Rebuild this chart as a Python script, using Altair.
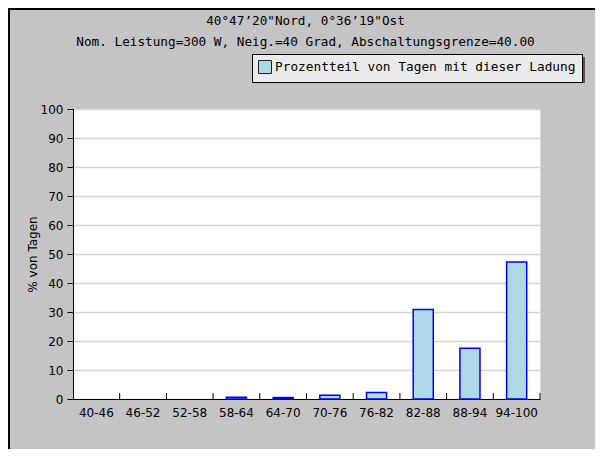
import altair as alt
import pandas as pd

categories = ["40-46", "46-52", "52-58", "58-64", "64-70", "70-76", "76-82", "82-88", "88-94", "94-100"]
values = [0, 0, 0, 0.6, 0.5, 1.3, 2.2, 30.9, 17.5, 47.2]
y_ticks = [0, 10, 20, 30, 40, 50, 60, 70, 80, 90, 100]
title_lines = ["40°47’20\"Nord, 0°36’19\"Ost",
               "Nom. Leistung=300 W, Neig.=40 Grad, Abschaltungsgrenze=40.00"]
legend_label = "Prozentteil von Tagen mit dieser Ladung"
y_title = "% von Tagen"

df = pd.DataFrame({"cat": categories, "val": values})

W, H = 467, 290
MONO = "DejaVu Sans Mono"
SANS = "DejaVu Sans"

x_enc = alt.X("cat:N", sort=categories, title=None,
              scale=alt.Scale(paddingInner=0, paddingOuter=0),
              axis=alt.Axis(labelAngle=0, ticks=False, labelPadding=8,
                            labelFont=SANS, labelFontSize=12, labelColor="black",
                            domainColor="black", domainWidth=1, grid=False))
y_enc = alt.Y("val:Q", title=y_title,
              scale=alt.Scale(domain=[0, 100], nice=False),
              axis=alt.Axis(values=y_ticks, tickSize=6, tickColor="black", domainColor="black",
                            labelFont=SANS, labelFontSize=12, labelColor="black", labelPadding=4,
                            gridColor="#d4d4d4", gridWidth=1.5,
                            titleFont=SANS, titleFontSize=12, titleFontWeight="normal",
                            titleColor="black", titleX=-34, titleY=H / 2))

bars = alt.Chart(df).mark_bar(width={"band": 0.43}, stroke="#0000ff", strokeWidth=1.5).encode(
    x=x_enc,
    y=y_enc,
    fill=alt.Fill("lab:N", scale=alt.Scale(range=["#add8e6"]),
                  legend=alt.Legend(title=None, orient="none", legendX=179, legendY=-55,
                                    padding=6, fillColor="#ebebeb", strokeColor="black",
                                    symbolType="square", symbolSize=169,
                                    symbolStrokeColor="#222222", symbolStrokeWidth=1,
                                    labelFont=MONO, labelFontSize=12.8, labelColor="black",
                                    labelOffset=3, labelLimit=500)),
    strokeOpacity=alt.condition(alt.datum.val > 0, alt.value(1), alt.value(0)),
).transform_calculate(lab=f"'{legend_label}'")

ticks_up = alt.Chart(df).mark_rule(color="black", strokeWidth=1).encode(
    x=alt.X("cat:N", sort=categories, bandPosition=1),
    y=alt.value(H),
    y2=alt.value(H - 6),
)

one = alt.Data(values=[{"k": 1}])
shadow = alt.Chart(one).mark_rect(color="#555555").encode(
    x=alt.value(182), x2=alt.value(512), y=alt.value(-52), y2=alt.value(-26))
frame_left = alt.Chart(one).mark_rule(color="black", strokeWidth=2).encode(
    x=alt.value(-64), y=alt.value(-101), y2=alt.value(H + 50))
frame_top = alt.Chart(one).mark_rule(color="black", strokeWidth=2).encode(
    x=alt.value(-65), x2=alt.value(W + 55), y=alt.value(-100))

title1 = alt.Chart(one).mark_text(font=MONO, fontSize=12.7, color="black",
                                  align="center", baseline="middle").encode(
    x=alt.value(W / 2 - 1), y=alt.value(-88), text=alt.datum(title_lines[0]))
title2 = alt.Chart(one).mark_text(font=MONO, fontSize=12.7, color="black",
                                  align="center", baseline="middle").encode(
    x=alt.value(W / 2 - 1), y=alt.value(-67), text=alt.datum(title_lines[1]))

chart = alt.layer(shadow, frame_left, frame_top, title1, title2, bars, ticks_up).properties(
    width=W, height=H,
    autosize=alt.AutoSizeParams(type="none"),
    padding={"left": 65, "top": 101, "right": 55, "bottom": 50},
    background="#c4c4c4",
).configure_view(fill="white", stroke="#dddddd")

chart.save("out.html", embed_options={"renderer": "svg", "actions": False})
